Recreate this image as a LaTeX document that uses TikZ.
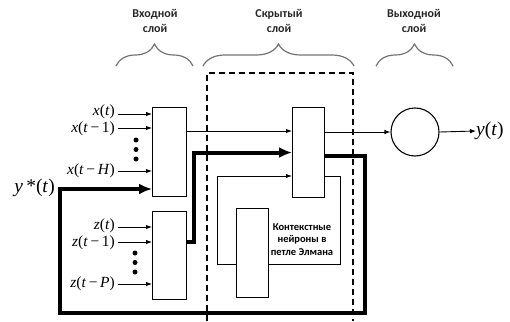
\documentclass[tikz,border=0pt]{standalone}
\usepackage{fontspec}
\setmainfont{Liberation Serif}
\newfontfamily\carlito{Carlito}
\usetikzlibrary{arrows.meta,decorations.pathreplacing}

\begin{document}
\begin{tikzpicture}[x=1pt,y=-1pt,
  unitbox/.style={draw,line width=1.1pt,fill=white,inner sep=0,anchor=north west,
                  minimum width=#1},
  unitbox/.default=34pt,
  inlabel/.style={anchor=east,inner sep=0,font=\fontsize{15.5}{15.5}\selectfont},
  biglabel/.style={inner sep=0,font=\fontsize{19.5}{19.5}\selectfont},
  thinarrow/.style={line width=0.9pt,-{Latex[length=6pt,width=4.5pt]}},
  thinline/.style={line width=0.9pt},
  heavyarrow/.style={line width=4pt,-{Latex[length=13pt,width=11pt]}},
  layerbrace/.style={decorate,decoration={brace,amplitude=22pt,aspect=0.5},
                     draw=black!55,line width=1.2pt},
  layertitle/.style={align=center,inner sep=0,text=black!85,
                     font=\carlito\bfseries\fontsize{12}{15}\selectfont},
  dot/.style={circle,fill=black,inner sep=0,minimum size=5pt},
]
\useasboundingbox (0,0) rectangle (510,321);

% hidden-layer frame (open at the bottom)
\draw[line width=1.2pt,dash pattern=on 6pt off 4pt] (207,321) -- (207,73) -- (353,73) -- (353,321);

% layer braces and titles
\draw[layerbrace] (116,66) -- (193,66);
\draw[layerbrace] (203,66) -- (354,66);
\draw[layerbrace] (376,66) -- (453,66);
\node[layertitle] (tin)  at (155,21) {Входной\\слой};
\node[layertitle] (thid) at (279,21) {Скрытый\\слой};
\node[layertitle] (tout) at (414,21) {Выходной\\слой};

% units
\node[unitbox,minimum height=89pt] (A) at (152,107) {};
\node[unitbox,minimum height=88pt] (B) at (152,211) {};
\node[unitbox=32pt,minimum height=90pt] (H) at (292,107) {};
\node[unitbox=32pt,minimum height=89pt] (C) at (236,208) {};
\node[circle,draw,line width=1.1pt,minimum size=48pt,inner sep=0] (O) at (415,132) {};

% context label
\node[align=center,inner sep=0,font=\carlito\bfseries\fontsize{10.5}{12.5}\selectfont]
  (ctx) at (302,239.5) {Контекстные\\нейроны в\\петле Элмана};

% exogenous inputs x
\node[inlabel] (x0) at (115,112) {\textit{x}(\textit{t})};
\node[inlabel] (x1) at (115,129) {\textit{x}(\textit{t}\,−\,1)};
\node[inlabel] (xH) at (115,171) {\textit{x}(\textit{t}\,−\,\textit{H})};
\draw[thinarrow] ([xshift=3pt,yshift=-2pt]x0.east) -- ([yshift=-2pt]x0.east -| A.west);
\draw[thinarrow] ([xshift=3pt,yshift=1pt]x1.east) -- ([yshift=1pt]x1.east -| A.west);
\draw[thinarrow] ([xshift=3pt]xH.east) -- (xH.east -| A.west);
\node[dot] (dx1) at (136,140) {};
\node[dot] (dx2) at (136,149.5) {};
\node[dot] (dx3) at (136,159) {};

% inputs z
\node[inlabel] (z0) at (115,226) {\textit{z}(\textit{t})};
\node[inlabel] (z1) at (115,243) {\textit{z}(\textit{t}\,−\,1)};
\node[inlabel] (zP) at (115,284) {\textit{z}(\textit{t}\,−\,\textit{P})};
\draw[thinarrow] ([xshift=3pt,yshift=-1pt]z0.east) -- ([yshift=-1pt]z0.east -| B.west);
\draw[thinarrow] ([xshift=3pt,yshift=1pt]z1.east) -- ([yshift=1pt]z1.east -| B.west);
\draw[thinarrow] ([xshift=3pt]zP.east) -- (zP.east -| B.west);
\node[dot] (dz1) at (135,253) {};
\node[dot] (dz2) at (135,262.5) {};
\node[dot] (dz3) at (135,272) {};

% feedback of the output y*(t)
\node[biglabel,anchor=east] (ys) at (55,188) {\textit{y}\,*(\textit{t})};
\coordinate (aIn) at (152,189);
\coordinate (fbR) at (365,313);
\coordinate (fbL) at (60,313);
\draw[heavyarrow] ([yshift=-3pt]H.east) -| (fbR) -- (fbL) |- (aIn);

% input units to hidden unit
\coordinate (aOut) at (186,131);
\draw[thinarrow] (aOut) -- (aOut -| H.west);
\coordinate (bOut) at (186,242);
\draw[heavyarrow] (bOut) -- ++(8,0) |- (H.west);

% Elman context loop
\coordinate (hCtx) at (324,176);
\coordinate (cR) at (268,264);
\coordinate (cL) at (236,264);
\draw[thinline] (hCtx) -- ++(16,0) |- (cR);
\draw[thinarrow] (cL) -- ++(-19,0) |- (hCtx -| H.west);

% output
\draw[thinarrow] (H.east |- O.west) -- (O.west);
\node[biglabel,anchor=west] (yout) at (476,131) {\textit{y}(\textit{t})};
\draw[thinarrow] (O.east) -- (yout.west);
\end{tikzpicture}
\end{document}
